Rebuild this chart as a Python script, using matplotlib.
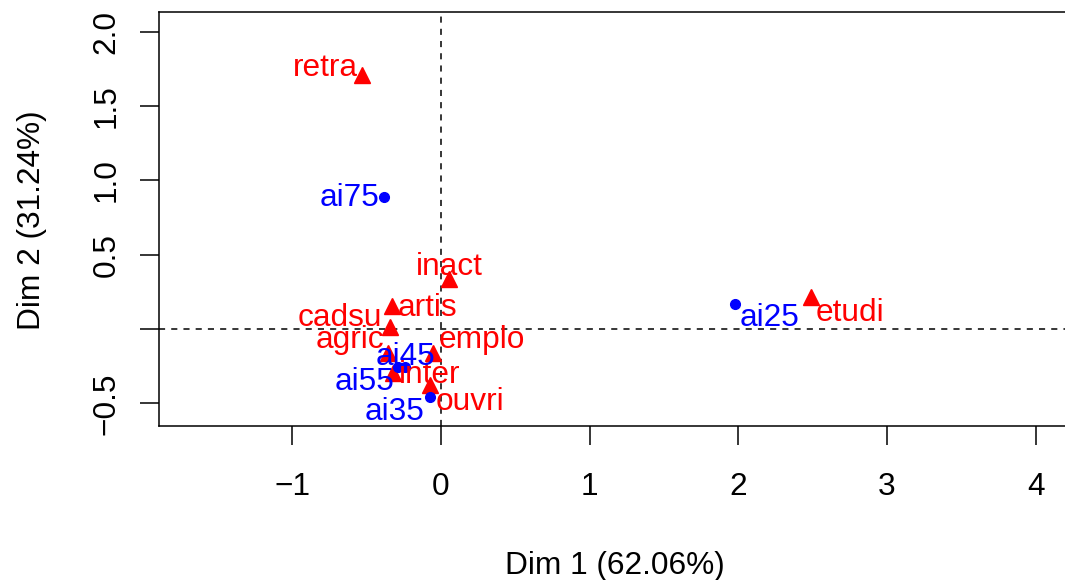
import numpy as np
import matplotlib
matplotlib.use("Agg")
import matplotlib.pyplot as plt

plt.rcParams['font.family'] = ['Liberation Sans', 'DejaVu Sans']

# rows (CSP) - red triangles
row_names = ['retra', 'inact', 'artis', 'cadsu', 'agric', 'emplo', 'inter', 'ouvri', 'etudi']
row_x = [-0.531, 0.054, -0.330, -0.343, -0.356, -0.054, -0.323, -0.074, 2.488]
row_y = [1.709, 0.336, 0.155, 0.013, -0.162, -0.162, -0.296, -0.377, 0.215]

# columns (age) - blue dots
col_names = ['ai75', 'ai45', 'ai55', 'ai35', 'ai25']
col_x = [-0.383, -0.240, -0.290, -0.074, 1.977]
col_y = [0.888, -0.258, -0.258, -0.458, 0.168]

# label offsets in pixels (layout only)
row_off = [(-37, 7), (0, 12), (36, -2), (-50, 9), (-38, 13), (49, 13), (37, -2), (40, -17), (39, -16)]
col_off = [(-34, -1), (0, 10), (-33, -15), (-35, -15), (35, -14)]

fig = plt.figure(figsize=(10.65, 5.8), dpi=100)
ax = fig.add_axes([159 / 1065, 1 - 426 / 580, (1072 - 159) / 1065, (426 - 12) / 580])

ax.axhline(0, color='black', ls=(0, (4, 4)), lw=1.1, zorder=1)
ax.axvline(0, color='black', ls=(0, (4, 4)), lw=1.1, zorder=1)

ax.plot(row_x, row_y, ls='none', marker='^', ms=11, color='#FF0000', zorder=3)
ax.plot(col_x, col_y, ls='none', marker='o', ms=7, color='#0000FF', zorder=3)

fs = 22.8
for name, x, y, off in zip(row_names, row_x, row_y, row_off):
    ax.annotate(name, (x, y), xytext=off, textcoords='offset pixels',
                ha='center', va='center', color='#FF0000', fontsize=fs)
for name, x, y, off in zip(col_names, col_x, col_y, col_off):
    ax.annotate(name, (x, y), xytext=off, textcoords='offset pixels',
                ha='center', va='center', color='#0000FF', fontsize=fs)

ax.set_xlim(-1.896, (1072 - 441) / 148.7)
ax.set_ylim(-0.653, 2.133)

ax.set_xticks([-1, 0, 1, 2, 3, 4])
ax.set_xticklabels(['\u22121', '0', '1', '2', '3', '4'])
ax.set_yticks([-0.5, 0, 0.5, 1.0, 1.5, 2.0])
ax.set_yticklabels(['\u22120.5', '', '0.5', '1.0', '1.5', '2.0'], rotation=90, va='center')

ax.tick_params(axis='both', direction='out', length=14, width=1.1, labelsize=fs)
ax.tick_params(axis='x', pad=19)
ax.tick_params(axis='y', pad=13)
for s in ax.spines.values():
    s.set_linewidth(1.1)

fig.text(615 / 1065, 1 - 566 / 580, 'Dim 1 (62.06%)', ha='center', va='center', fontsize=fs)
fig.text(32 / 1065, 1 - 220 / 580, 'Dim 2 (31.24%)', ha='center', va='center', fontsize=fs, rotation=90)

fig.savefig('out.png', dpi=100)
